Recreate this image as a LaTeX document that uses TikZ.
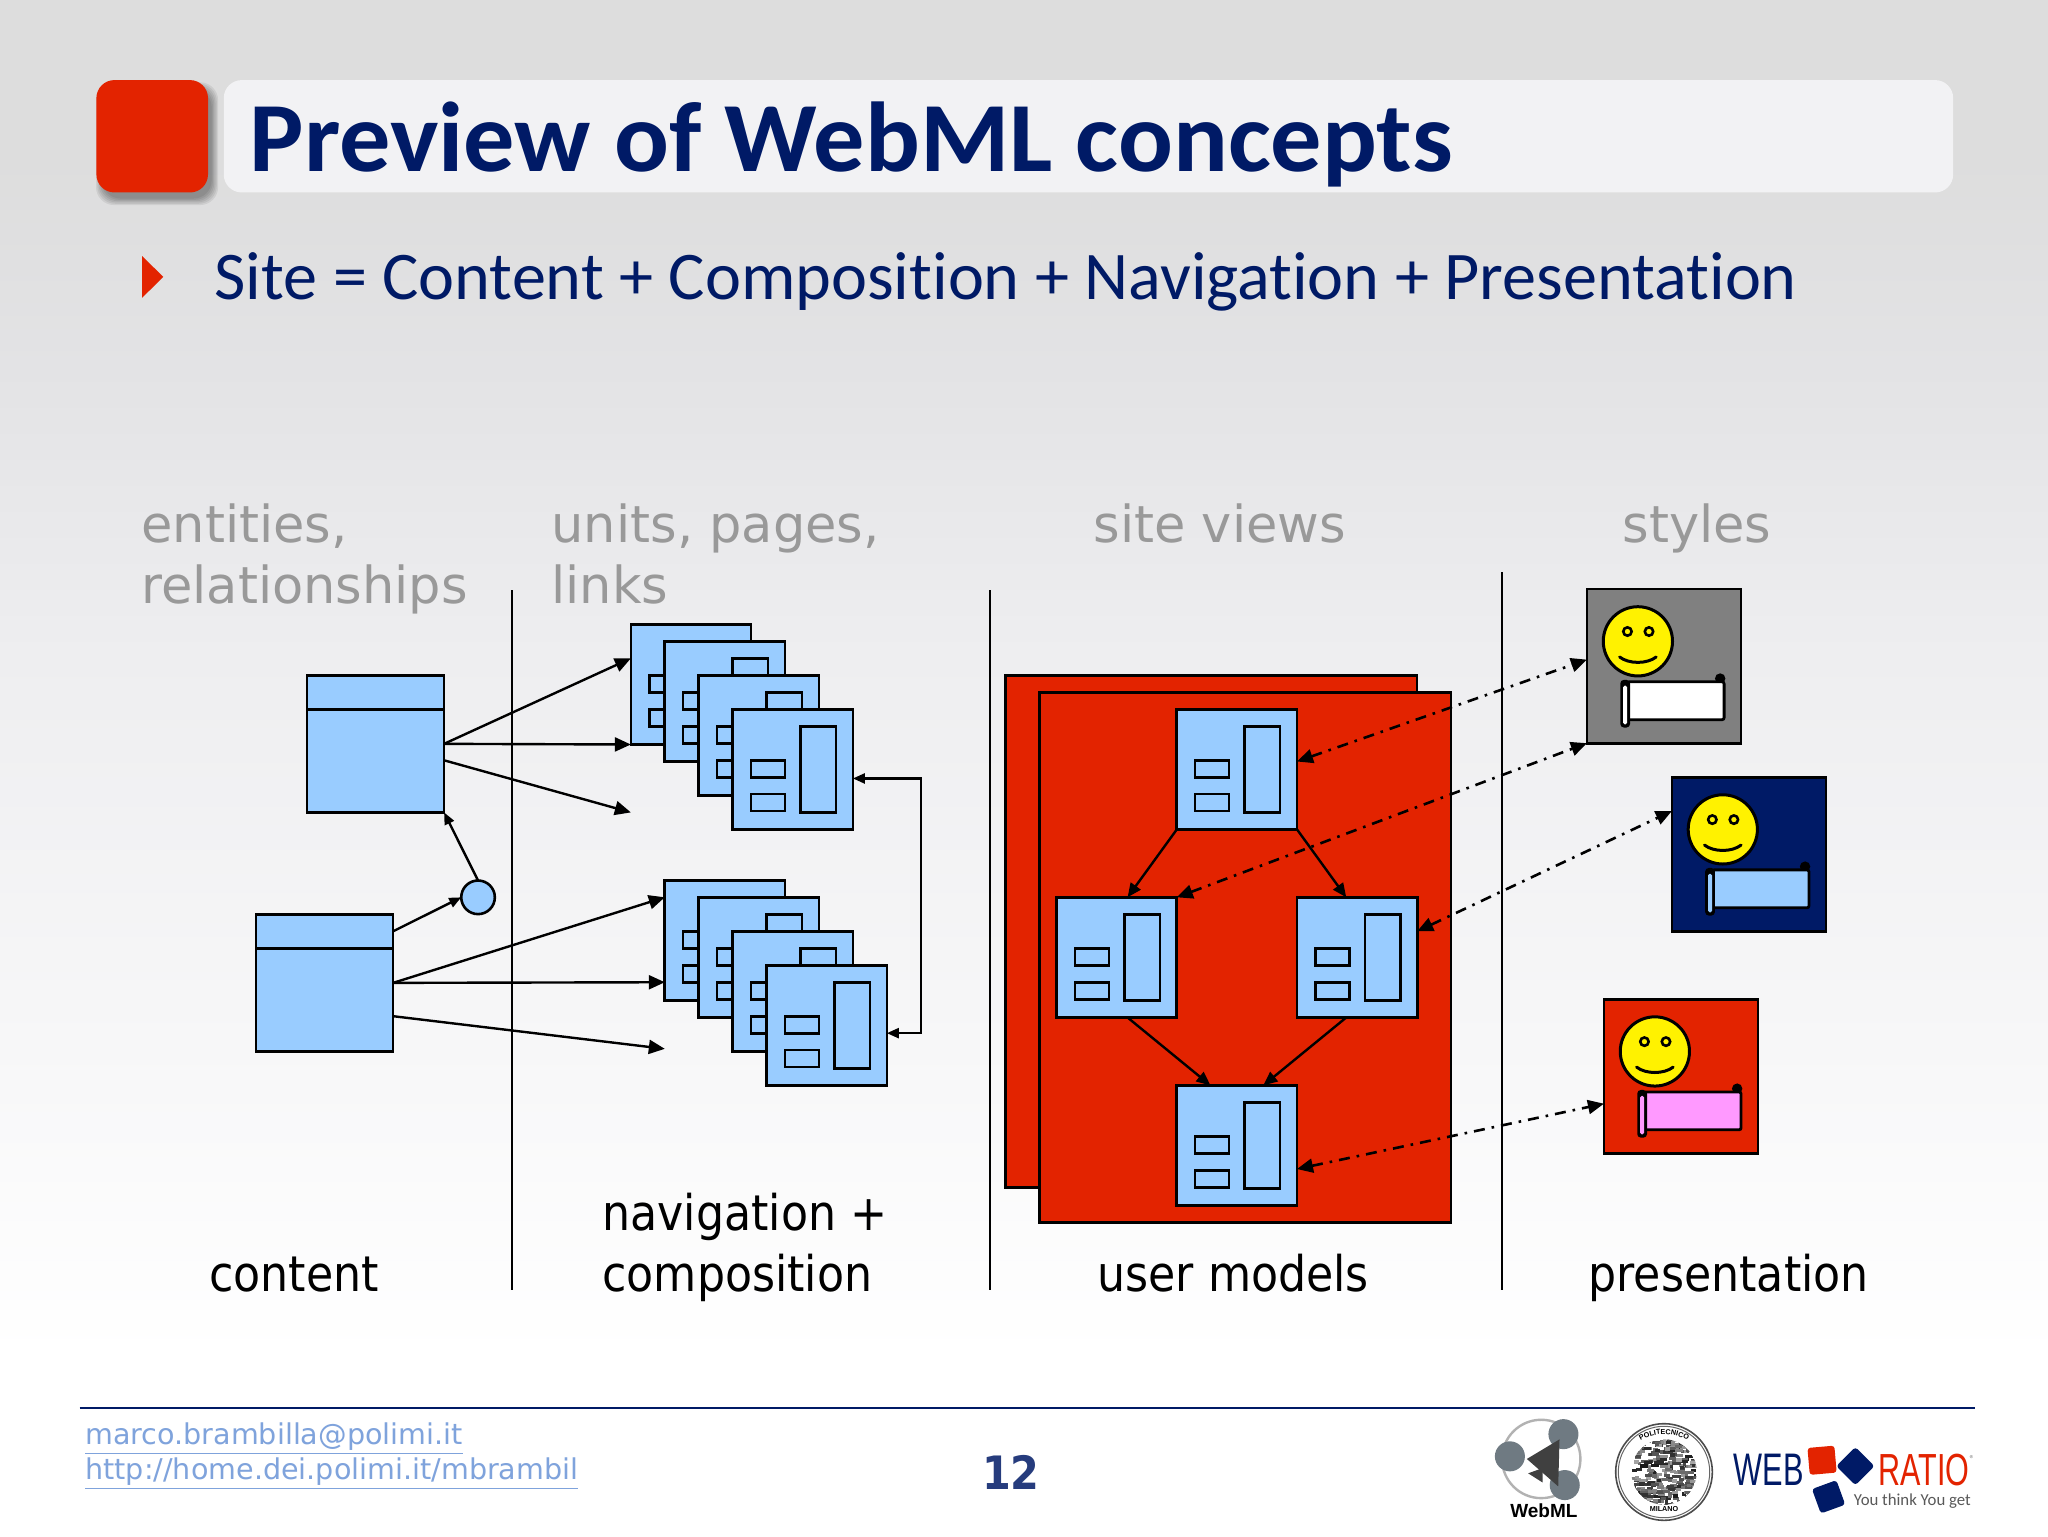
\documentclass[tikz,border=0pt]{standalone}
\usepackage{fontspec}
\usepackage{graphicx}
\setmainfont{Carlito}
\newfontfamily\subfont[Ligatures=NoCommon]{Carlito}
\newfontfamily\titlefont[Ligatures=NoCommon,FakeStretch=1.03]{Carlito}
\newfontfamily\vfont{DejaVu Sans}
\newfontfamily\tfont{DejaVu Sans Condensed}
\newfontfamily\lfont{Liberation Sans}
\usetikzlibrary{arrows.meta,calc,decorations.text}
\definecolor{navy}{HTML}{001A66}
\definecolor{redd}{HTML}{E32300}
\definecolor{sky}{HTML}{99CCFF}
\definecolor{pinkish}{HTML}{FF99FF}
\definecolor{greytxt}{HTML}{999999}
\definecolor{linkc}{HTML}{7FA3DC}
\definecolor{logog}{HTML}{6F7A82}
\definecolor{barc}{HTML}{F2F2F4}
\definecolor{bgA}{HTML}{FFFFFF}
\definecolor{bgB}{HTML}{F7F7F8}
\definecolor{bgC}{HTML}{EEEEF0}
\definecolor{bgD}{HTML}{E3E3E5}
\definecolor{bgE}{HTML}{DDDDDD}
\pgfdeclareverticalshading{slidebg}{100bp}{color(0bp)=(bgA); color(30.8bp)=(bgA); color(41bp)=(bgB); color(53.7bp)=(bgC); color(63bp)=(bgD); color(69.9bp)=(bgE); color(100bp)=(bgE)}
\tikzset{
  x=0.65306pt,y=-0.65306pt,
  pagebox/.style={draw=black,fill=sky,line width=1.35pt,minimum width=60.08pt,minimum height=60.08pt,inner sep=0pt,outer sep=0pt,anchor=north west},
  entbox/.style={draw=black,fill=sky,line width=1.35pt,minimum width=68.57pt,minimum height=68.57pt,inner sep=0pt,outer sep=0pt,anchor=north west},
  cardbox/.style={draw=black,line width=1.35pt,minimum width=77.06pt,minimum height=77.06pt,inner sep=0pt,outer sep=0pt,anchor=north west},
  inbox/.style={draw=black,fill=sky,line width=1.35pt},
  rule/.style={draw=black,line width=1.2pt},
  arr/.style={draw=black,line width=1.2pt,-{Triangle[length=8pt,width=7pt]}},
  arrmid/.style={draw=black,line width=1.2pt,-{Triangle[length=7pt,width=6pt]}},
  arrsm/.style={draw=black,line width=1.2pt,-{Triangle[length=6pt,width=5pt]}},
  dbl/.style={draw=black,line width=1.2pt,{Triangle[length=6pt,width=5pt]}-{Triangle[length=6pt,width=5pt]}},
  dashdbl/.style={draw=black,line width=1.3pt,dash pattern=on 5.5pt off 3.5pt on 1.3pt off 3.5pt,{Triangle[length=8pt,width=7pt]}-{Triangle[length=8pt,width=7pt]}},
  greylbl/.style={text=greytxt,font=\vfont\fontsize{25.5}{30.7}\selectfont,align=left,inner sep=0pt,anchor=north west},
  blacklbl/.style={text=black,font=\tfont\fontsize{24.6}{30.7}\selectfont,align=left,inner sep=0pt,anchor=north west},
}
\newcommand{\webpg}[3]{%
  \begin{scope}[shift={(#2,#3)}]
    \node[pagebox] (#1) at (0,0) {};
    \draw[inbox] (52,13) rectangle (79,79);
    \draw[inbox] (14,39) rectangle (40,52);
    \draw[inbox] (14,65) rectangle (40,78);
  \end{scope}}
\newcommand{\card}[5]{%
  \begin{scope}[shift={(#2,#3)}]
    \node[cardbox,fill=#4] (#1) at (0,0) {};
    \fill[black] (102,68.5) circle (4);
    \draw[line width=1.4pt,fill=#5,rounded corners=1pt] (31,71) rectangle (105,100);
    \fill[black,rounded corners=1.8pt] (25.5,69.5) rectangle (33,106);
    \fill[#5,rounded corners=0.8pt] (27.7,74) rectangle (30.8,103.5);
    \draw[line width=1.5pt,fill=yellow] (39,40) circle (26.5);
    \draw[line width=1.3pt,fill=yellow] (31,32.5) circle (3.2);
    \draw[line width=1.3pt,fill=yellow] (47.5,32.5) circle (3.2);
    \draw[line width=1.5pt,line cap=round] (25,52) .. controls (32,57.5) and (46,57.5) .. (53,52);
  \end{scope}}
\begin{document}
\begin{tikzpicture}
\useasboundingbox (0,0) rectangle (1568,1176);
\shade[shading=slidebg] (0,0) rectangle (1568,1176);

% title
\foreach \k in {4,3,2,1,0,-1}
  \fill[black,opacity=0.07,rounded corners=9pt] (73.5-\k+4,61-\k+6) rectangle (159+\k+4,147+\k+6);
\node[fill=redd,rounded corners=9pt,minimum width=55.8pt,minimum height=56.2pt,inner sep=0pt,anchor=north west] (redsq) at (73.5,61) {};
\node[fill=barc,rounded corners=9pt,minimum width=864.7pt,minimum height=56.2pt,inner sep=0pt,anchor=north west] (titlebar) at (171,61) {};
\node[text=navy,font=\titlefont\bfseries\fontsize{49.65}{49.65}\selectfont,inner sep=0pt,anchor=base west] (title) at (191,131) {Preview of WebML concepts};
\fill[redd] (108.8,196) -- (125,212) -- (108.8,228) -- cycle;
\node[text=navy,font=\subfont\fontsize{34.1}{34.1}\selectfont,inner sep=0pt,anchor=base west] (sub) at (164,229) {Site = Content + Composition + Navigation + Presentation};

% heading labels
\node[greylbl] (h1) at (108,385) {entities,\\relationships};
\node[greylbl] (h2) at (422,385) {units, pages,\\links};
\node[greylbl] (h3) at (837,385) {site views};
\node[greylbl] (h4) at (1242,385) {styles};

% rules
\coordinate (r1a) at (392,452); \coordinate (r1b) at (392,988);
\coordinate (r2a) at (758,452); \coordinate (r2b) at (758,988);
\coordinate (r3a) at (1150,438); \coordinate (r3b) at (1150,988);
\draw[rule] (r1a) -- (r1b);
\draw[rule] (r2a) -- (r2b);
\draw[rule] (r3a) -- (r3b);

% entities
\node[entbox] (entA) at (235,517) {};
\node[entbox] (entB) at (196,700) {};
\draw[line width=1.35pt] ($(entA.north west)!0.248!(entA.south west)$) -- ($(entA.north east)!0.248!(entA.south east)$);
\draw[line width=1.35pt] ($(entB.north west)!0.248!(entB.south west)$) -- ($(entB.north east)!0.248!(entB.south east)$);
\node[circle,draw=black,fill=sky,line width=1.3pt,minimum size=16.8pt,inner sep=0pt,outer sep=0pt] (rel) at (366,687) {};
\draw[arrsm] ($(entB.north east)!0.124!(entB.south east)$) -- (rel.west);
\draw[arrsm] (rel.north) -- (entA.south east);

% page stacks
\webpg{t1}{483}{478}\webpg{t2}{509}{491}\webpg{t3}{535}{517}\webpg{t4}{561}{543}
\webpg{b1}{509}{674}\webpg{b2}{535}{687}\webpg{b3}{561}{713}\webpg{b4}{587}{739}
\coordinate (freeA) at (483,622);
\coordinate (freeB) at (509,803);
\draw[arr] (entA.east) -- ($(t1.north west)!0.283!(t1.south west)$);
\draw[arr] (entA.east) -- (t1.south west);
\draw[arr] ($(entA.north east)!0.62!(entA.south east)$) -- (freeA);
\draw[arr] (entB.east) -- ($(b1.north west)!0.141!(b1.south west)$);
\draw[arr] (entB.east) -- ($(b1.north west)!0.848!(b1.south west)$);
\draw[arr] ($(entB.north east)!0.743!(entB.south east)$) -- (freeB);
\coordinate (fbA) at (705,596);
\coordinate (fbB) at (705,791);
\draw[dbl] (fbA -| t4.east) -- (fbA) -- (fbB) -- (fbB -| b4.east);

% site views
\node[draw=black,fill=redd,line width=1.35pt,minimum width=205.7pt,minimum height=256pt,inner sep=0pt,outer sep=0pt,anchor=north west] (sv1) at (770,517) {};
\node[draw=black,fill=redd,line width=1.35pt,minimum width=205.7pt,minimum height=265.1pt,inner sep=0pt,outer sep=0pt,anchor=north west] (sv2) at (796,530) {};
\webpg{n1}{901}{543}\webpg{n2}{809}{687}\webpg{n3}{993}{687}\webpg{n4}{901}{831}
\draw[arrmid] (n1.south west) -- ($(n2.north west)!0.59!(n2.north east)$);
\draw[arrmid] (n1.south east) -- ($(n3.north west)!0.41!(n3.north east)$);
\draw[arrmid] ($(n2.south west)!0.59!(n2.south east)$) -- ($(n4.north west)!0.28!(n4.north east)$);
\draw[arrmid] ($(n3.south west)!0.41!(n3.south east)$) -- ($(n4.north west)!0.72!(n4.north east)$);

% style cards
\card{s1}{1215}{451}{gray}{white}
\card{s2}{1280}{595}{navy}{sky}
\card{s3}{1228}{765}{redd}{pinkish}
\draw[dashdbl] ($(n1.north east)!0.435!(n1.south east)$) -- ($(s1.north west)!0.458!(s1.south west)$);
\draw[dashdbl] (n2.north east) -- (s1.south west);
\draw[dashdbl] ($(n3.north east)!0.283!(n3.south east)$) -- ($(s2.north west)!0.22!(s2.south west)$);
\draw[dashdbl] ($(n4.north east)!0.696!(n4.south east)$) -- ($(s3.north west)!0.678!(s3.south west)$);

% bottom labels
\node[blacklbl] (c1) at (160,962) {content};
\node[blacklbl] (c2) at (461,913) {navigation +\\composition};
\node[blacklbl] (c3) at (840,960) {user models};
\node[blacklbl] (c4) at (1216,960) {presentation};

% footer
\coordinate (fl) at (61,1078); \coordinate (fr) at (1512,1078);
\draw[navy,line width=1.2pt] (fl) -- (fr);
\node[text=linkc,font=\vfont\fontsize{14.3}{17.6}\selectfont,align=left,inner sep=0pt,anchor=north west] (links) at (65,1089) {\underline{marco.brambilla@polimi.it}\\\underline{http://home.dei.polimi.it/mbrambil}};
\node[text=navy!85!white,font=\tfont\bfseries\fontsize{23}{23}\selectfont,inner sep=0pt] (pg) at (774,1127) {12};

% WebML logo
\draw[gray!60,line width=1.2pt] (1180,1117) circle (30);
\fill[logog] (1156,1115) circle (11.5);
\fill[logog] (1197,1098) circle (11.5);
\fill[logog] (1198,1137) circle (11.5);
\fill[black!75] (1169,1117) -- (1194,1102) -- (1193,1138) -- cycle;
\fill[black!75] (1170,1128) -- (1181,1124) -- (1181,1135) -- cycle;
\node[font=\lfont\bfseries\fontsize{9.5}{9.5}\selectfont,inner sep=0pt] (wml) at (1182,1157) {WebML};

% seal
\draw[black!70,line width=0.8pt,fill=white] (1274,1127) circle (37);
\draw[black!60,line width=0.5pt] (1274,1127) circle (35);
\begin{scope}
  \clip (1274,1127) circle (25);
  \pgfmathsetseed{7}
  \foreach \i in {1,...,320}{
    \pgfmathsetmacro{\px}{1248+52*rnd}
    \pgfmathsetmacro{\py}{1101+52*rnd}
    \pgfmathsetmacro{\pl}{2+5*rnd}
    \pgfmathsetmacro{\pg}{35+55*rnd}
    \fill[black!\pg] (\px,\py) rectangle (\px+\pl,\py+2.4);
  }
\end{scope}
\path[decorate,decoration={text along path,text align=center,text={|\lfont\bfseries\fontsize{3.6}{3.6}\selectfont|POLITECNICO}}] (1247,1113) .. controls (1256,1093) and (1292,1093) .. (1301,1113);
\node[font=\lfont\bfseries\fontsize{3.6}{3.6}\selectfont,inner sep=0pt] (mil) at (1274,1155) {MILANO};

% WebRatio logo
\node[text=navy,font=\lfont,inner sep=0pt,anchor=base west] (web) at (1327,1137) {\resizebox{35pt}{15.7pt}{WEB}};
\node[text=redd,font=\lfont,inner sep=0pt,anchor=base west] (ratio) at (1438,1137) {\resizebox{45.5pt}{15.7pt}{RATIO}};
\node[text=gray,font=\fontsize{5}{5}\selectfont,inner sep=0pt] (reg) at (1510,1117) {®};
\node[text=black!65,font=\fontsize{9}{9}\selectfont,inner sep=0pt,anchor=base west] (ytg) at (1419,1153) {\resizebox{58.5pt}{!}{You think You get}};
\node[fill=redd,rounded corners=1.5pt,minimum size=13.5pt,inner sep=0pt,rotate=5] (lg1) at (1395,1118) {};
\node[fill=navy,rounded corners=1.5pt,minimum size=13.5pt,inner sep=0pt,rotate=45] (lg2) at (1420.5,1122.5) {};
\node[fill=navy,rounded corners=1.5pt,minimum size=13pt,inner sep=0pt,rotate=20] (lg3) at (1400,1146) {};
\end{tikzpicture}
\end{document}
